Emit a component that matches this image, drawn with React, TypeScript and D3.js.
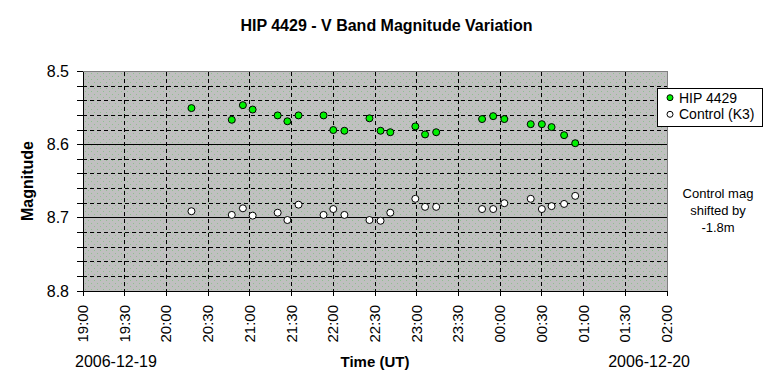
import React from "react";
import * as d3 from "d3";

const times: string[] = [
  "2006-12-19 20:18", "2006-12-19 20:47", "2006-12-19 20:55", "2006-12-19 21:02",
  "2006-12-19 21:20", "2006-12-19 21:27", "2006-12-19 21:35", "2006-12-19 21:53",
  "2006-12-19 22:00", "2006-12-19 22:08", "2006-12-19 22:26", "2006-12-19 22:34",
  "2006-12-19 22:41", "2006-12-19 22:59", "2006-12-19 23:06", "2006-12-19 23:14",
  "2006-12-19 23:47", "2006-12-19 23:55", "2006-12-20 00:03", "2006-12-20 00:22",
  "2006-12-20 00:30", "2006-12-20 00:37", "2006-12-20 00:46", "2006-12-20 00:54",
];
const hipMag: number[] = [
  8.550, 8.566, 8.546, 8.552, 8.560, 8.568, 8.560, 8.560, 8.580, 8.581, 8.564, 8.581,
  8.583, 8.575, 8.586, 8.583, 8.565, 8.561, 8.565, 8.572, 8.572, 8.576, 8.587, 8.598,
];
const controlMag: number[] = [
  8.691, 8.696, 8.687, 8.697, 8.693, 8.703, 8.682, 8.696, 8.688, 8.696, 8.703, 8.704,
  8.693, 8.674, 8.685, 8.685, 8.688, 8.688, 8.680, 8.674, 8.688, 8.684, 8.681, 8.670,
];
const seriesNames: string[] = ["HIP 4429", "Control (K3)"];
const yMajorTicks: number[] = [8.5, 8.6, 8.7, 8.8];
const xDomain: string[] = ["2006-12-19 19:00", "2006-12-20 02:00"];
const dateLabels: string[] = ["2006-12-19", "2006-12-20"];
const noteLines: string[] = ["Control mag", "shifted by", "-1.8m"];

const parse = d3.utcParse("%Y-%m-%d %H:%M");

export default function App() {
  const W = 772, H = 389;
  const left = 83, right = 667, top = 71.5, bottom = 291;
  const x = d3.scaleUtc().domain(xDomain.map((s) => parse(s) as Date)).range([left, right]);
  const y = d3.scaleLinear().domain([8.5, 8.8]).range([top, bottom]);
  const xTicks = x.ticks(d3.utcMinute.every(30) as any);
  const yMinor = d3.range(0, 16).map((i) => +(8.5 + i * 0.02).toFixed(2));
  const fmt = d3.utcFormat("%H:%M");
  const font = "Arial, 'Liberation Sans', sans-serif";
  const green = "#00f000";
  const pts = times.map((t, i) => ({ t: parse(t) as Date, h: hipMag[i], c: controlMag[i] }));

  return (
    <svg width={W} height={H} style={{ position: "absolute", left: 0, top: 0 }} fontFamily={font}>
      <defs>
        <pattern id="dots" width="6" height="6" patternUnits="userSpaceOnUse">
          <rect width="6" height="6" fill="#c0c0c0" />
          <rect x="1" y="1" width="1" height="1" fill="#8fc08f" />
          <rect x="4" y="4" width="1" height="1" fill="#8fc08f" />
        </pattern>
      </defs>
      <rect width={W} height={H} fill="#ffffff" />
      <text x={386.5} y={31} textAnchor="middle" fontSize={16} fontWeight="bold">
        HIP 4429 - V Band Magnitude Variation
      </text>
      <rect x={left} y={top} width={right - left} height={bottom - top} fill="url(#dots)" stroke="#808080" strokeWidth={1} shapeRendering="crispEdges" />
      {yMinor.filter((v) => Math.round(v * 100) % 10 !== 0).map((v) => (
        <line key={"hm" + v} x1={left} x2={right} y1={y(v)} y2={y(v)} stroke="#000" strokeDasharray="4,3" shapeRendering="crispEdges" />
      ))}
      {xTicks.slice(1, -1).map((t) => (
        <line key={"v" + +t} x1={x(t)} x2={x(t)} y1={top} y2={bottom} stroke="#000" strokeDasharray="4,3" shapeRendering="crispEdges" />
      ))}
      {yMajorTicks.slice(1, -1).map((v) => (
        <line key={"hM" + v} x1={left} x2={right} y1={y(v)} y2={y(v)} stroke="#000" shapeRendering="crispEdges" />
      ))}
      <line x1={left} x2={left} y1={top} y2={bottom} stroke="#000" shapeRendering="crispEdges" />
      <line x1={left} x2={right} y1={bottom} y2={bottom} stroke="#000" shapeRendering="crispEdges" />
      {yMinor.concat([8.8]).map((v) => (
        <line key={"yt" + v} x1={left - 6} x2={left} y1={y(v)} y2={y(v)} stroke="#000" shapeRendering="crispEdges" />
      ))}
      {yMajorTicks.map((v) => (
        <text key={"yl" + v} x={69} y={y(v) + 5.5} textAnchor="end" fontSize={16}>{v.toFixed(1)}</text>
      ))}
      {xTicks.map((t) => (
        <g key={"xt" + +t}>
          <line x1={x(t)} x2={x(t)} y1={bottom} y2={bottom + 5} stroke="#000" shapeRendering="crispEdges" />
          <text transform={`translate(${x(t) + 5},${305}) rotate(-90)`} textAnchor="end" fontSize={15}>{fmt(t)}</text>
        </g>
      ))}
      <text transform="translate(33,181) rotate(-90)" textAnchor="middle" fontSize={16} fontWeight="bold">Magnitude</text>
      <text x={375} y={367} textAnchor="middle" fontSize={15} fontWeight="bold">Time (UT)</text>
      <text x={75} y={367} fontSize={16}>{dateLabels[0]}</text>
      <text x={690} y={367} textAnchor="end" fontSize={16}>{dateLabels[1]}</text>
      {pts.map((p, i) => (
        <circle key={"c" + i} cx={x(p.t)} cy={y(p.c)} r={3.5} fill="#ffffff" stroke="#000" strokeWidth={1} />
      ))}
      {pts.map((p, i) => (
        <circle key={"h" + i} cx={x(p.t)} cy={y(p.h)} r={3.5} fill={green} stroke="#000" strokeWidth={1} />
      ))}
      <rect x={657} y={88.5} width={105} height={37.5} fill="#fff" stroke="#000" shapeRendering="crispEdges" />
      <circle cx={670} cy={97.7} r={3} fill={green} stroke="#000" />
      <text x={679} y={102.7} fontSize={14}>{seriesNames[0]}</text>
      <circle cx={670} cy={114.3} r={3} fill="#fff" stroke="#000" />
      <text x={679} y={119.3} fontSize={14}>{seriesNames[1]}</text>
      {noteLines.map((s, i) => (
        <text key={"n" + i} x={718} y={[198, 215, 231.5][i]} textAnchor="middle" fontSize={13}>{s}</text>
      ))}
    </svg>
  );
}
